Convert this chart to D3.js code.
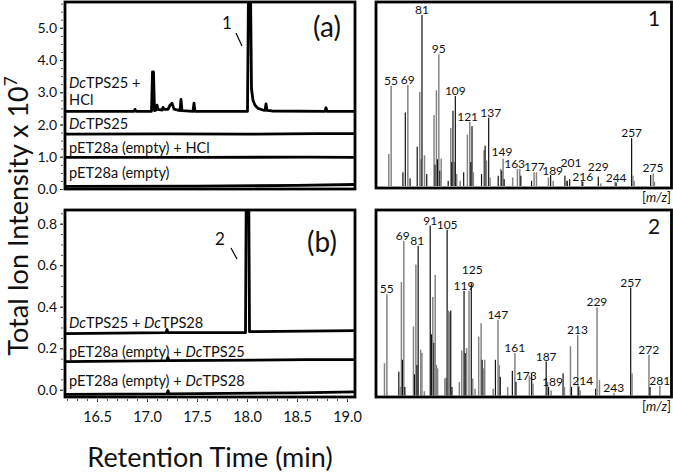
<!DOCTYPE html>
<html lang="en">
  <head>
    <meta charset="utf-8">
    <title>GC-MS</title>
    <script src="https://d3js.org/d3.v7.min.js"></script>
    <style media="screen">
      body { margin: 0; background: #fff; }
      svg text { font-family: Lato, "Open Sans", sans-serif; fill: #111; }
    </style>
  </head>
  <body>
    <div id="chart"></div>
    <script type="text/javascript">
      // chromatogram traces (retention time in min, intensity x 10^7)
      let tps25Hcl = [
        [16.18,2.41],[16.87,2.41],[16.88,2.47],[16.89,2.41],
        [17.045,2.41],[17.055,3.63],[17.065,3.63],[17.075,2.43],
        [17.09,2.45],[17.10,2.60],[17.11,2.47],
        [17.15,2.45],[17.16,2.53],[17.17,2.47],
        [17.21,2.47],[17.23,2.60],[17.25,2.66],[17.27,2.48],
        [17.33,2.43],[17.34,2.78],[17.35,2.43],
        [17.46,2.41],[17.47,2.66],[17.48,2.41],
        [18.005,2.41],[18.015,6.2],[18.035,6.2],[18.045,3.1],[18.06,2.75],
        [18.08,2.6],[18.11,2.5],[18.16,2.45],
        [18.18,2.44],[18.19,2.64],[18.20,2.44],[18.25,2.42],
        [18.78,2.41],[18.79,2.52],[18.80,2.41],[19.08,2.41]
      ];
      let tps25 = [[16.18,1.70],[17.2,1.71],[18.0,1.70],[18.7,1.72],[19.08,1.72]];
      let emptyHcl = [[16.18,0.98],[17.5,0.98],[18.6,0.99],[19.08,0.98]];
      let empty = [[16.18,0.08],[17.5,0.09],[18.5,0.11],[19.08,0.14]];

      let tps25tps28 = [
        [16.18,0.27],[17.19,0.275],[17.20,0.29],[17.21,0.275],
        [17.985,0.275],[17.993,1.0],[18.017,1.0],[18.025,0.28],[19.08,0.285]
      ];
      let empty25 = [[16.18,0.135],[17.2,0.14],[17.21,0.155],[17.22,0.14],[18.6,0.145],[19.08,0.145]];
      let empty28 = [[16.18,-0.022],[17.2,-0.02],[17.21,-0.005],[17.22,-0.02],[18.5,-0.015],[19.08,-0.01]];

      let timeTicks = [16.5, 17.0, 17.5, 18.0, 18.5, 19.0];
      let ticksA = [0, 1, 2, 3, 4, 5];
      let ticksB = [0, 0.2, 0.4, 0.6, 0.8];

      // mass spectra: [m/z, relative intensity %, colour 0 = grey, 1 = black]
      let spec1 = [
        [53,18.7,0],[55,58.5,0],[65,8,1],[67,43,1],[69,59,0],[71,4.5,1],[77,23,1],[79,55,0],
        [80,15.6,0],[81,100,1],[83,18,0],[85,7,1],[91,41.5,0],[92,12.5,1],[93,56,0],[94,15.6,1],
        [95,77,0],[96,9,1],[97,16,0],[103,3,1],[105,34,0],[106,14,1],[107,44,1],[108,14,0],
        [109,52.6,1],[110,7,0],[113,3,0],[116,8,1],[119,30,0],[121,37.6,0],[122,14,1],[123,35,1],
        [124,8,0],[131,7,1],[133,21,0],[134,23.6,1],[135,15,0],[137,40,1],[138,5,0],[145,6,1],
        [147,10,0],[148,9,1],[149,16,0],[150,4,1],[157,5,0],[161,10,0],[163,10,0],[164,6,1],
        [173,3,1],[175,8,0],[177,8,0],[187,5,0],[189,6.4,1],[191,3,0],[201,6,1],[202,3,0],
        [203,3,1],[205,4,1],[215,3,0],[216,2.5,1],[229,5.5,1],[231,1.5,0],[243,2.5,0],[244,2,1],
        [257,28,1],[258,6,0],[259,3,0],[273,6.4,1],[275,7.4,0],[276,2.5,0]
      ];
      let spec2 = [
        [53,19,0],[55,59.6,0],[65,14,1],[66,5,0],[67,66.7,0],[68,21,1],[69,91,0],[70,5,1],
        [77,40.6,0],[78,12.5,1],[79,77,0],[80,18,1],[81,88,1],[83,27,0],[84,25,0],[86,2.5,0],
        [91,100,1],[92,36,1],[93,58,0],[94,31,1],[95,71,0],[96,18,0],[97,16,0],[103,10,0],
        [104,10.5,0],[105,97.5,1],[106,50,0],[107,49,0],[108,50,1],[109,5,1],[115,8,0],[117,26.5,0],
        [119,61.6,1],[120,25,1],[121,28,0],[123,61.6,0],[125,66,1],[126,10,0],[128,4,0],[131,34.7,0],
        [133,42.5,0],[134,21,1],[135,16,0],[136,21,0],[143,4,0],[145,21,1],[147,44.5,0],[148,18,0],
        [149,11,1],[155,5,0],[159,14.5,1],[161,25,0],[162,8,1],[173,11.8,0],[175,13,1],[176,7,0],
        [187,20,1],[188,8,0],[189,5,1],[191,3,0],[201,13,1],[202,5,0],[207,29,0],[208,5,1],
        [213,35.7,0],[214,5.3,1],[215,3,0],[228,4,1],[229,51.8,0],[231,9,0],[243,1.5,0],
        [257,63.5,1],[258,13,0],[272,24,0],[273,5,1],[281,5.7,0]
      ];
      let labels1 = [55,69,81,95,109,121,137,149,163,177,189,201,216,229,244,257,275];
      let labels2 = [55,69,81,91,105,119,125,147,161,173,187,189,213,214,229,243,257,272,281];

      let w = 673, h = 475;
      let svg = d3.select("#chart").append("svg")
                  .attr("width", w)
                  .attr("height", h);

      let x = d3.scaleLinear().domain([16.18, 19.08]).range([65, 355]);
      let yA = d3.scaleLinear().domain([0, 5.8]).range([189, 2]);
      let yB = d3.scaleLinear().domain([-0.035, 0.866]).range([397, 210]);

      function chromPanel(id, y, ticks, minorStep, traces, fmt) {
        let g = svg.append("g");
        let top = y.range()[1], bottom = y.range()[0];
        g.append("clipPath").attr("id", id)
          .append("rect").attr("x", 65).attr("y", top)
          .attr("width", 290).attr("height", bottom - top);
        let line = d3.line().x(d => x(d[0])).y(d => y(d[1]));
        traces.forEach(function(t) {
          g.append("path").datum(t)
            .attr("clip-path", "url(#" + id + ")")
            .attr("d", line)
            .attr("fill", "none")
            .attr("stroke", "#000")
            .attr("stroke-width", 2.8)
            .attr("stroke-linejoin", "round");
        });
        g.append("rect").attr("x", 65).attr("y", top)
          .attr("width", 290).attr("height", bottom - top)
          .attr("fill", "none").attr("stroke", "#000").attr("stroke-width", 2.8);

        // y axis
        let ax = d3.axisLeft(y).tickValues(ticks).tickSize(3).tickFormat(fmt);
        let ay = g.append("g").attr("transform", "translate(63,0)").call(ax);
        ay.select(".domain").remove();
        ay.selectAll("text").attr("font-size", 14).attr("fill", "#222");
        let minor = d3.range(0, y.domain()[1], minorStep);
        g.append("g").attr("transform", "translate(63,0)")
          .call(d3.axisLeft(y).tickValues(minor).tickSize(2).tickFormat(""))
          .call(s => s.select(".domain").remove())
          .selectAll("line").attr("stroke", "#555");
        return g;
      }

      chromPanel("clipA", yA, ticksA, 0.25, [tps25Hcl, tps25, emptyHcl, empty], d3.format(".1f"));
      chromPanel("clipB", yB, ticksB, 0.05, [tps25tps28, empty25, empty28], d3.format(".1f"));

      // x axis under (b)
      let axX = svg.append("g").attr("transform", "translate(0,399)")
        .call(d3.axisBottom(x).tickValues(timeTicks).tickSize(3).tickFormat(d3.format(".1f")));
      axX.select(".domain").remove();
      axX.selectAll("text").attr("font-size", 14.5).attr("dy", "1.2em").attr("fill", "#222");
      svg.append("g").attr("transform", "translate(0,399)")
        .call(d3.axisBottom(x).tickValues(d3.range(16.2, 19.08, 0.1)).tickSize(2).tickFormat(""))
        .call(s => s.select(".domain").remove())
        .selectAll("line").attr("stroke", "#555");

      // trace labels
      function traceLabel(x0, y0, parts) {
        let t = svg.append("text").attr("x", x0).attr("y", y0).attr("font-size", 14.6);
        parts.forEach(function(p) {
          t.append("tspan").text(p[0]).attr("font-style", p[1] ? "italic" : "normal");
        });
      }
      traceLabel(69, 88, [["Dc", 1], ["TPS25 +", 0]]);
      traceLabel(69, 105, [["HCl", 0]]);
      traceLabel(69, 129, [["Dc", 1], ["TPS25", 0]]);
      traceLabel(69, 153, [["pET28a (empty) + HCl", 0]]);
      traceLabel(69, 178, [["pET28a (empty)", 0]]);
      traceLabel(69, 328, [["Dc", 1], ["TPS25 + ", 0], ["Dc", 1], ["TPS28", 0]]);
      traceLabel(69, 357, [["pET28a (empty) + ", 0], ["Dc", 1], ["TPS25", 0]]);
      traceLabel(69, 386, [["pET28a (empty) + ", 0], ["Dc", 1], ["TPS28", 0]]);

      // panel tags and peak numbers
      svg.append("text").attr("x", 327).attr("y", 37).attr("text-anchor", "middle")
        .attr("font-size", 28).text("(a)");
      svg.append("text").attr("x", 322).attr("y", 252).attr("text-anchor", "middle")
        .attr("font-size", 28).text("(b)");
      svg.append("text").attr("x", 227).attr("y", 29).attr("text-anchor", "middle")
        .attr("font-size", 17).text("1");
      svg.append("line").attr("x1", 236).attr("y1", 33).attr("x2", 242).attr("y2", 46)
        .attr("stroke", "#000").attr("stroke-width", 1.2);
      svg.append("text").attr("x", 220).attr("y", 245).attr("text-anchor", "middle")
        .attr("font-size", 17).text("2");
      svg.append("line").attr("x1", 231).attr("y1", 248).attr("x2", 237).attr("y2", 259)
        .attr("stroke", "#000").attr("stroke-width", 1.2);

      // axis titles
      let yt = svg.append("text")
        .attr("transform", "translate(28,216) rotate(-90)")
        .attr("text-anchor", "middle")
        .attr("font-size", 27);
      yt.append("tspan").text("Total Ion Intensity x 10");
      yt.append("tspan").text("7").attr("font-size", 17).attr("dy", -11);
      svg.append("text").attr("x", 210).attr("y", 467).attr("text-anchor", "middle")
        .attr("font-size", 27).text("Retention Time (min)");

      // spectra
      function spectrum(data, labels, mzDomain, top, bottom, base, full, tag, nudge) {
        let g = svg.append("g");
        let sx = d3.scaleLinear().domain(mzDomain).range([376, 672]);
        let sy = d3.scaleLinear().domain([0, 100]).range([base, full]);
        g.selectAll("rect.bar")
          .data(data)
          .enter()
          .append("rect")
          .attr("class", "bar")
          .attr("x", d => sx(d[0]) - 0.6)
          .attr("y", d => sy(d[1]))
          .attr("width", d => d[2] ? 1.2 : 1.5)
          .attr("height", d => base - sy(d[1]))
          .attr("fill", d => d[2] ? "#111" : "#858585");
        g.selectAll("text.lbl")
          .data(labels)
          .enter()
          .append("text")
          .attr("class", "lbl")
          .attr("x", d => sx(d) + ((nudge[d] || [0, 0])[0]))
          .attr("y", function(d) {
            let top = d3.min(data.filter(p => p[0] === d), p => sy(p[1]));
            return Math.min(top - 1, base - 4) + ((nudge[d] || [0, 0])[1]);
          })
          .attr("text-anchor", "middle")
          .attr("font-size", 12)
          .text(d => d);
        g.append("rect").attr("x", 376).attr("y", top)
          .attr("width", 295.5).attr("height", bottom - top)
          .attr("fill", "none").attr("stroke", "#000").attr("stroke-width", 2.8);
        g.append("text").attr("x", 654).attr("y", top + 24).attr("text-anchor", "middle")
          .attr("font-size", 21).text(tag);
        let mz = g.append("text").attr("x", 671).attr("y", bottom + 14)
          .attr("text-anchor", "end").attr("font-size", 13);
        mz.append("tspan").text("[");
        mz.append("tspan").text("m/z").attr("font-style", "italic");
        mz.append("tspan").text("]");
      }

      spectrum(spec1, labels1, [42.4, 290.9], 2, 188, 186, 15, "1",
               {121: [-2, 0], 137: [2, 0], 149: [-1, -2], 163: [-5, 0], 177: [-2, 0],
                189: [2, 1], 201: [6, -8], 229: [0, -5]});
      spectrum(spec2, labels2, [46.1, 291.2], 210, 397, 395.5, 225.5, "2",
               {125: [1, -8], 69: [-1, 0], 81: [-1, 0], 173: [-3, 6], 189: [4, 0], 214: [4, 0]});
    </script>
  </body>
</html>
